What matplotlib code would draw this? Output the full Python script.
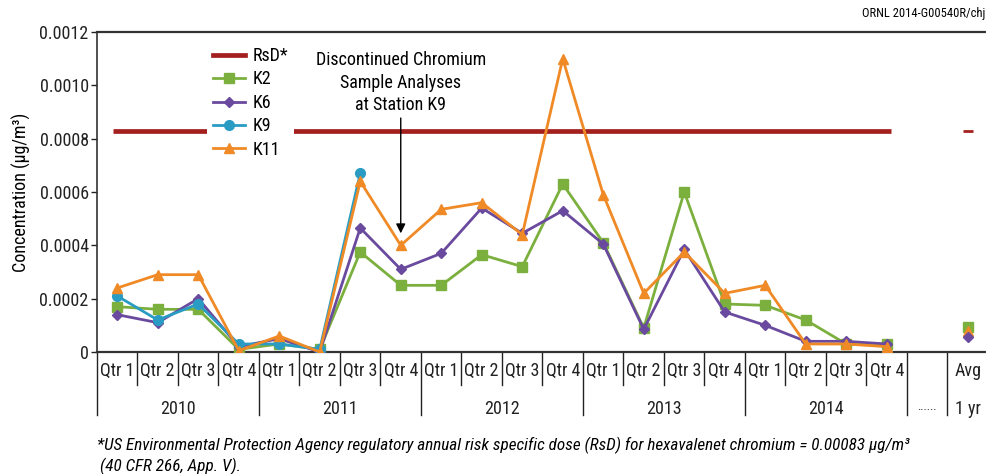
import numpy as np
import matplotlib
matplotlib.use("Agg")
import matplotlib.pyplot as plt
from matplotlib.transforms import blended_transform_factory

plt.rcParams['font.family'] = ['Roboto Condensed', 'Liberation Sans', 'DejaVu Sans']

# ---------------- data ----------------
quarters = ["Qtr 1", "Qtr 2", "Qtr 3", "Qtr 4"] * 5
years = ["2010", "2011", "2012", "2013", "2014"]
nan = np.nan
k2 = [0.00017, 0.00016, 0.00016, 0.00001,
      0.00003, 0.00001, 0.000375, 0.00025,
      0.00025, 0.000365, 0.00032, 0.00063,
      0.00041, 0.00009, 0.00060, 0.00018,
      0.000175, 0.00012, 0.00003, 0.00003]
k6 = [0.00014, 0.00011, 0.00020, 0.00002,
      0.00005, 0.0, 0.000465, 0.00031,
      0.00037, 0.00054, 0.000445, 0.00053,
      0.000405, 0.000085, 0.000385, 0.00015,
      0.00010, 0.00004, 0.00004, 0.00003]
k9 = [0.00021, 0.00012, 0.00018, 0.00003,
      0.00003, 0.00001, 0.00067, nan,
      nan, nan, nan, nan,
      nan, nan, nan, nan,
      nan, nan, nan, nan]
k11 = [0.00024, 0.00029, 0.00029, 0.000005,
       0.00006, 0.0, 0.00064, 0.00040,
       0.000535, 0.00056, 0.00044, 0.00110,
       0.00059, 0.00022, 0.000375, 0.00022,
       0.00025, 0.00003, 0.00003, 0.00002]
avg_labels = ["Avg", "1 yr"]
avg_k2, avg_k6, avg_k11 = 0.000095, 0.000055, 0.00008
rsd = 0.00083
yticks = [0, 0.0002, 0.0004, 0.0006, 0.0008, 0.0010, 0.0012]
ytick_labels = ["0", "0.0002", "0.0004", "0.0006", "0.0008", "0.0010", "0.0012"]

# ---------------- styles ----------------
c_k2 = "#7cb03e"
c_k6 = "#6a4a9e"
c_k9 = "#2a9cc4"
c_k11 = "#ef8a26"
c_rsd = "#a3201f"
fs = 13

fig = plt.figure(figsize=(9.87, 4.74), dpi=100)
ax = fig.add_axes([97/987, 1-352/474, 890/987, 320/474])

x = np.arange(len(quarters))
avg_x = len(quarters) + 1

ax.hlines(rsd, -0.1, len(quarters) - 0.9, color=c_rsd, lw=3.4, zorder=2)
ax.hlines(rsd, avg_x - 0.12, avg_x + 0.12, color=c_rsd, lw=2, zorder=2)

ax.plot([], [], color=c_rsd, lw=3.4, label="RsD*")
ax.plot(x, k2, color=c_k2, lw=2, marker="s", ms=7, label="K2", zorder=3)
ax.plot(x, k6, color=c_k6, lw=2, marker="D", ms=5.5, label="K6", zorder=4)
ax.plot(x, k9, color=c_k9, lw=2, marker="o", ms=7, label="K9", zorder=5)
ax.plot(x, k11, color=c_k11, lw=2, marker="^", ms=7.5, label="K11", zorder=6)
ax.plot([avg_x], [avg_k2], color=c_k2, marker="s", ms=7, ls="none", zorder=3)
ax.plot([avg_x], [avg_k11], color=c_k11, marker="^", ms=7.5, ls="none", zorder=6)
ax.plot([avg_x], [avg_k6], color=c_k6, marker="D", ms=5.5, ls="none", zorder=7)

ax.set_xlim(-0.5, -0.5 + 890/40.5)
ax.set_ylim(0, 0.0012)
ax.set_yticks(yticks)
ax.set_yticklabels(ytick_labels, fontsize=fs)
ax.tick_params(axis="y", length=4, width=1, pad=2, colors="#222222")

ax.set_xticks(list(x) + [avg_x])
ax.set_xticklabels(quarters + [avg_labels[0]], fontsize=fs)
ax.tick_params(axis="x", length=0, pad=7, colors="#222222")

for s in ["top", "left", "bottom"]:
    ax.spines[s].set_color("#333333")
ax.spines["top"].set_linewidth(1.6)
ax.spines["left"].set_linewidth(1.2)
ax.spines["bottom"].set_linewidth(1.6)
ax.spines["right"].set_visible(False)

ax.set_ylabel("Concentration (μg/m³)", fontsize=fs, labelpad=6)

# separators
tr = blended_transform_factory(ax.transData, ax.transAxes)
q_bot = -(385 - 352) / 320
y_bot = -(415 - 352) / 320
for i in range(len(quarters) + 1):
    b = i - 0.5
    yb = y_bot if i % 4 == 0 else q_bot
    ax.plot([b, b], [0, yb], transform=tr, color="#222222", lw=1, clip_on=False)
for b in [len(quarters) + 0.5]:
    ax.plot([b, b], [0, y_bot], transform=tr, color="#222222", lw=1, clip_on=False)

# year labels
for j, yr in enumerate(years):
    ax.text(4 * j + 1.5, -(409 - 352) / 320, yr, transform=tr, ha="center", va="center", fontsize=fs,
            color="#222222")
ax.text(len(quarters), -(407 - 352) / 320, "......", transform=tr, ha="center", va="center", fontsize=9,
        color="#222222")
ax.text(avg_x, -(409 - 352) / 320, avg_labels[1], transform=tr, ha="center", va="center", fontsize=fs,
        color="#222222")

# annotation
ax.annotate("Discontinued Chromium\nSample Analyses\nat Station K9",
            xy=(7, 0.000445), xytext=(7, 0.000893),
            ha="center", va="bottom", fontsize=fs, linespacing=1.3,
            arrowprops=dict(arrowstyle="-|>", color="black", lw=1, mutation_scale=14,
                            shrinkA=1, shrinkB=0))

leg = ax.legend(loc="upper left", bbox_to_anchor=(0.124, 0.97), fontsize=fs, frameon=True,
                facecolor="white", edgecolor="none", framealpha=1, borderaxespad=0,
                borderpad=0.3, handlelength=1.8, handletextpad=0.4, labelspacing=0.3)
leg.set_zorder(10)

fig.text(985/987, 1 - 14/474, "ORNL 2014-G00540R/chj", fontsize=9, ha="right", va="center")
fig.text(97/987, 1 - 445/474,
         "*US Environmental Protection Agency regulatory annual risk specific dose (RsD) for hexavalenet chromium = 0.00083 μg/m³",
         fontsize=12.3, style="italic", ha="left", va="center")
fig.text(100/987, 1 - 466/474, "(40 CFR 266, App. V).", fontsize=12.3, style="italic", ha="left", va="center")

fig.savefig("out.png", dpi=100)
